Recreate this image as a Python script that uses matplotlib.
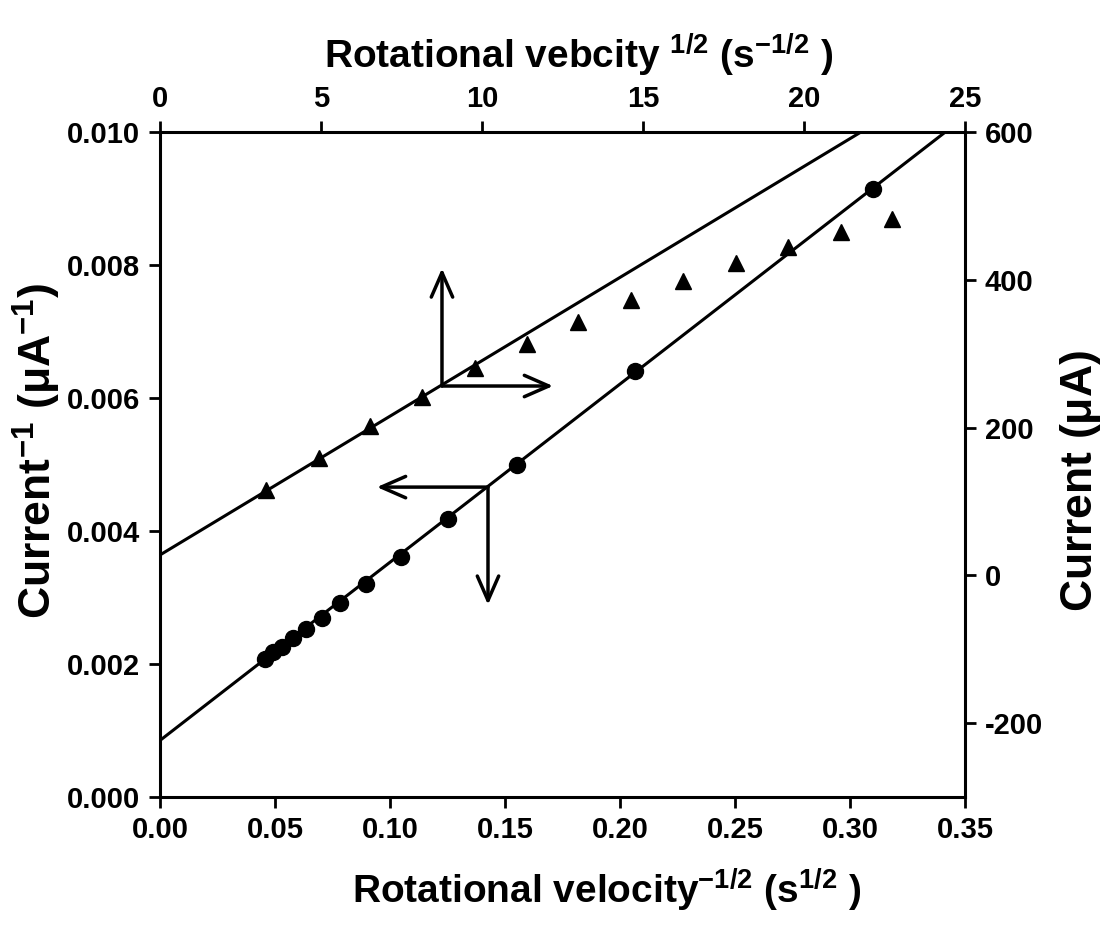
import matplotlib
matplotlib.use("Agg")
import matplotlib.pyplot as plt
import numpy as np

plt.rcParams['font.family'] = ['Liberation Sans', 'DejaVu Sans']
plt.rcParams['font.weight'] = 'bold'
plt.rcParams['axes.unicode_minus'] = False
plt.rcParams['mathtext.fontset'] = 'custom'
plt.rcParams['mathtext.rm'] = 'Liberation Sans:bold'
plt.rcParams['mathtext.it'] = 'Liberation Sans:bold'
plt.rcParams['mathtext.bf'] = 'Liberation Sans:bold'

# circles: current^-1 vs rotational velocity^-1/2 (bottom / left axes)
inv_sqrt_w = [0.0457, 0.0491, 0.0530, 0.0578, 0.0635, 0.0704, 0.0783,
              0.0896, 0.1048, 0.1252, 0.1552, 0.2065, 0.3100]
inv_current = [0.00208, 0.00218, 0.00226, 0.00239, 0.00253, 0.00269, 0.00292,
               0.00320, 0.00361, 0.00418, 0.00499, 0.00641, 0.00914]
# fit line for circles
fit_low = (0.00085, 0.0268)   # intercept, slope

# triangles: current vs rotational velocity^1/2 (top / right axes)
sqrt_w = [3.29, 4.94, 6.52, 8.14, 9.78, 11.40, 12.98,
          14.63, 16.24, 17.89, 19.50, 21.15, 22.73]
current = [116, 159, 202, 241, 281, 313, 343, 373, 398, 423, 444, 465, 482]
fit_up = (27.5, 26.3)

fig = plt.figure(figsize=(11.03, 9.36), dpi=100)
rect = [0.145, 0.1485, 0.730, 0.7105]
ax = fig.add_axes(rect)
ax2 = fig.add_axes(rect, frameon=False)

xl = np.array([0, 0.35])
ax.plot(xl, fit_low[0] + fit_low[1] * xl, color='black', lw=2.2)
ax.plot(inv_sqrt_w, inv_current, 'o', color='black', ms=11.5)
ax.set_xlim(0, 0.35)
ax.set_ylim(0, 0.010)
ax.set_xticks(np.arange(0, 0.351, 0.05))
ax.set_xticklabels(['%.2f' % v for v in np.arange(0, 0.351, 0.05)])
ax.set_yticks(np.arange(0, 0.0101, 0.002))
ax.set_yticklabels(['%.3f' % v for v in np.arange(0, 0.0101, 0.002)])

xt = np.array([0, 25])
ax2.plot(xt, fit_up[0] + fit_up[1] * xt, color='black', lw=2.2)
ax2.plot(sqrt_w, current, '^', color='black', ms=12)
ax2.set_xlim(0, 25)
ax2.set_ylim(-300, 600)
ax2.set_xticks([0, 5, 10, 15, 20, 25])
ax2.set_yticks([-200, 0, 200, 400, 600])
ax2.xaxis.tick_top()
ax2.yaxis.tick_right()
ax2.xaxis.set_label_position('top')
ax2.yaxis.set_label_position('right')

for s in ax.spines.values():
    s.set_linewidth(2.2)
for a in (ax, ax2):
    a.tick_params(direction='out', length=8, width=2, labelsize=21, pad=6)
    for lab in a.get_xticklabels() + a.get_yticklabels():
        lab.set_fontweight('bold')

ax.set_xlabel(r'Rotational velocity$^{-1/2}$ (s$^{1/2}$ )', fontsize=28,
              fontweight='bold')
ax.xaxis.set_label_coords(0.555, -0.105)
ax.set_ylabel(r'Current$^{-1}$ ($\mu$A$^{-1}$)', fontsize=32,
              fontweight='bold')
ax.yaxis.set_label_coords(-0.12, 0.52)
ax2.set_xlabel(r'Rotational vebcity $^{1/2}$ (s$^{-1/2}$ )', fontsize=28,
               fontweight='bold')
ax2.xaxis.set_label_coords(0.52, 1.095)
ax2.set_ylabel(r'Current ($\mu$A)', fontsize=32, fontweight='bold',
               rotation=90)
ax2.yaxis.set_label_coords(1.115, 0.475)

# direction arrows
aprops = dict(arrowstyle='->,head_length=0.8,head_width=0.35', lw=2.5,
              color='black', shrinkA=0, shrinkB=0, mutation_scale=22)
j1 = (0.1226, 0.00618)
ax.annotate('', xy=(j1[0], 0.00795), xytext=j1, arrowprops=aprops)
ax.annotate('', xy=(0.1709, j1[1]), xytext=j1, arrowprops=aprops)
j2 = (0.1426, 0.00466)
ax.annotate('', xy=(0.0943, j2[1]), xytext=j2, arrowprops=aprops)
ax.annotate('', xy=(j2[0], 0.00289), xytext=j2, arrowprops=aprops)

fig.savefig('out.png', dpi=100)
